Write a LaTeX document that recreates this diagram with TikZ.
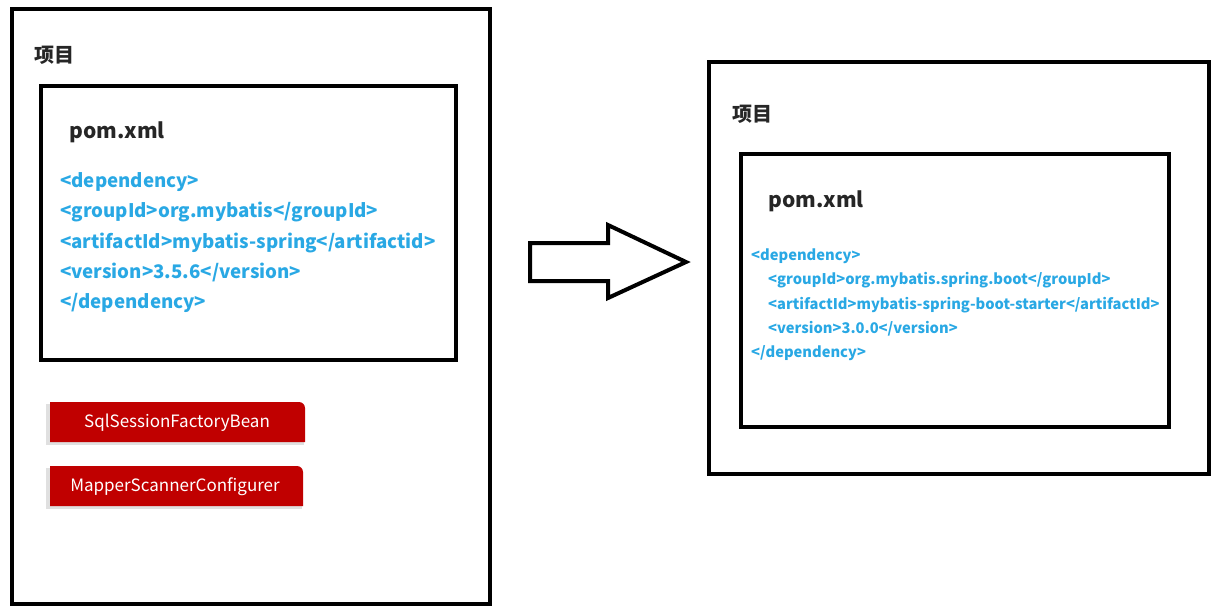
\documentclass[tikz,border=0pt]{standalone}
\usepackage{fontspec}
\setmainfont{Noto Sans CJK SC}
\usetikzlibrary{positioning}
\definecolor{codeblue}{RGB}{41,168,228}
\definecolor{beanred}{RGB}{192,0,0}
\tikzset{
  frame/.style={draw=black,line width=4pt},
  title/.style={anchor=base west,font=\bfseries\fontsize{20}{24}\selectfont,text=black!85,inner sep=0pt},
  pomtitle/.style={anchor=base west,font=\bfseries\fontsize{21}{25}\selectfont,text=black!85,inner sep=0pt},
  codebig/.style={anchor=base west,font=\bfseries\fontsize{18.7}{22}\selectfont,text=codeblue,inner sep=0pt},
  codesmall/.style={anchor=base west,font=\bfseries\fontsize{14.7}{17}\selectfont,text=codeblue,inner sep=0pt},
  beantext/.style={font=\fontsize{17}{20}\selectfont,text=white,inner sep=0pt}
}
\begin{document}
\begin{tikzpicture}[x=1pt,y=-1pt]
    \useasboundingbox (0,0) rectangle (1218,611);
    % left project
    \draw[frame] (12,9) rectangle (490,604);
    \node[title] (projL) at (34,62) {项目};
    \draw[frame] (41,86) rectangle (456,360);
    \node[pomtitle] (pomL) at (69,138) {pom.xml};
    \node[codebig] (depL) at (60,187) {<dependency>};
    \node[codebig] (grpL) at (60,217) {<groupId>org.mybatis</groupId>};
    \node[codebig] (artL) at (60,248) {<artifactId>mybatis-spring</artifactid>};
    \node[codebig] (verL) at (60,278) {<version>3.5.6</version>};
    \node[codebig] (endL) at (60,308) {</dependency>};
    % beans
    \fill[black!12] (46,404) -- (46,445) -- (304,445) -- (304,404) -- cycle;
    \fill[beanred] (50,442) -- (50,402) [rounded corners=6pt] -- (305,402) [sharp corners] -- (305,442) -- cycle;
    \node[beantext] (sqlbean) at (177,423) {SqlSessionFactoryBean};
    \fill[black!12] (46,468) -- (46,509) -- (302,509) -- (302,468) -- cycle;
    \fill[beanred] (50,506) -- (50,466) [rounded corners=6pt] -- (303,466) [sharp corners] -- (303,506) -- cycle;
    \node[beantext] (mapbean) at (175,487) {MapperScannerConfigurer};
    % arrow
    \draw[line width=4pt,line join=miter,fill=white] (530,243) -- (608,243) -- (608,225) -- (686,262)
        -- (608,298) -- (608,281) -- (530,281) -- cycle;
    % right project
    \draw[frame] (709,62) rectangle (1209,474);
    \node[title] (projR) at (732,121) {项目};
    \draw[frame] (741,154) rectangle (1169,427);
    \node[pomtitle] (pomR) at (768,207) {pom.xml};
    \node[codesmall] (depR) at (751,260) {<dependency>};
    \node[codesmall] (grpR) at (768,284) {<groupId>org.mybatis.spring.boot</groupId>};
    \node[codesmall] (artR) at (768,309) {<artifactId>mybatis-spring-boot-starter</artifactId>};
    \node[codesmall] (verR) at (768,333) {<version>3.0.0</version>};
    \node[codesmall] (endR) at (751,357) {</dependency>};
\end{tikzpicture}
\end{document}
